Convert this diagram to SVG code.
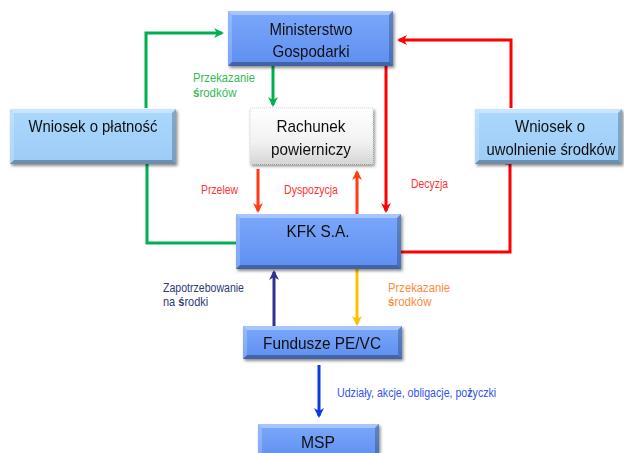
<svg xmlns="http://www.w3.org/2000/svg" width="624" height="453" viewBox="0 0 624 453">
<defs>
<linearGradient id="gBlue" x1="0" y1="0" x2="0" y2="1"><stop offset="0" stop-color="#7BA8FB"/><stop offset="1" stop-color="#5E8FF0"/></linearGradient>
<linearGradient id="gLight" x1="0" y1="0" x2="0" y2="1"><stop offset="0" stop-color="#ACD8FC"/><stop offset="1" stop-color="#9CCBF6"/></linearGradient>
<linearGradient id="gGray" x1="0" y1="0" x2="0" y2="1"><stop offset="0" stop-color="#FFFFFF"/><stop offset="0.6" stop-color="#F2F2F2"/><stop offset="1" stop-color="#D6D6D6"/></linearGradient>
<filter id="sh" x="-10%" y="-10%" width="130%" height="140%"><feDropShadow dx="1.5" dy="2" stdDeviation="1.5" flood-color="#000" flood-opacity="0.45"/></filter>
<marker id="aGreen" markerWidth="10" markerHeight="10" refX="8" refY="5" orient="auto" markerUnits="userSpaceOnUse"><path d="M0,0 L10,5 L0,10 L3,5 z" fill="#00B050"/></marker>
<marker id="aRed" markerWidth="10" markerHeight="10" refX="8" refY="5" orient="auto" markerUnits="userSpaceOnUse"><path d="M0,0 L10,5 L0,10 L3,5 z" fill="#FF0000"/></marker>
<marker id="aOrange" markerWidth="10" markerHeight="10" refX="8" refY="5" orient="auto" markerUnits="userSpaceOnUse"><path d="M0,0 L10,5 L0,10 L3,5 z" fill="#FF3B10"/></marker>
<marker id="aNavy" markerWidth="10" markerHeight="10" refX="8" refY="5" orient="auto" markerUnits="userSpaceOnUse"><path d="M0,0 L10,5 L0,10 L3,5 z" fill="#2E3192"/></marker>
<marker id="aYellow" markerWidth="10" markerHeight="10" refX="8" refY="5" orient="auto" markerUnits="userSpaceOnUse"><path d="M0,0 L10,5 L0,10 L3,5 z" fill="#FFC000"/></marker>
<marker id="aBlue" markerWidth="10" markerHeight="10" refX="8" refY="5" orient="auto" markerUnits="userSpaceOnUse"><path d="M0,0 L10,5 L0,10 L3,5 z" fill="#0A3BE0"/></marker>
</defs>
<style>
.box{filter:url(#sh)}
.blue{fill:url(#gBlue)}
.light{fill:url(#gLight)}
.gray{fill:url(#gGray);stroke:#D8D8D8;stroke-width:1;stroke-dasharray:1 1}
.hiT{fill:#FFFFFF;opacity:0.35}
.hiL{fill:#FFFFFF;opacity:0.2}
.loB{fill:#000000;opacity:0.3}
.loR{fill:#000000;opacity:0.22}
.t{font-family:"Liberation Sans Narrow","Arial Narrow","Liberation Sans",sans-serif;fill:#111;text-anchor:middle;font-size:17px}
.lbl{font-family:"Liberation Sans Narrow","Arial Narrow","Liberation Sans",sans-serif;font-size:12.5px}
.b{font-weight:bold}
.c{fill:none;stroke-width:3}
</style>
<rect width="624" height="453" fill="#FFFFFF"/>
<g id="connectors">
<polyline class="c" stroke="#00B050" points="146,108 146,33 222,33" marker-end="url(#aGreen)"/>
<polyline class="c" stroke="#FF0000" points="511,108 511,40 399,40" marker-end="url(#aRed)"/>
<line class="c" stroke="#00B050" x1="273" y1="66" x2="273" y2="105" marker-end="url(#aGreen)"/>
<line class="c" stroke="#FF0000" x1="386" y1="66" x2="386" y2="211" marker-end="url(#aRed)"/>
<line class="c" stroke="#FF3B10" x1="258" y1="169" x2="258" y2="211" marker-end="url(#aOrange)"/>
<line class="c" stroke="#FF3B10" x1="357" y1="214" x2="357" y2="172" marker-end="url(#aOrange)"/>
<polyline class="c" stroke="#00B050" points="147,164 147,243 237,243"/>
<polyline class="c" stroke="#FF0000" points="505,163 510,163 510,252 400,252"/>
<line class="c" stroke="#2E3192" x1="274" y1="326" x2="274" y2="272" marker-end="url(#aNavy)"/>
<line class="c" stroke="#FFC000" x1="357" y1="269" x2="357" y2="324" marker-end="url(#aYellow)"/>
<line class="c" stroke="#0A3BE0" x1="319" y1="365" x2="319" y2="416" marker-end="url(#aBlue)"/>
<text class="lbl" fill="#33BB55" x="193" y="82" textLength="62" lengthAdjust="spacingAndGlyphs">Przekazanie</text>
<text class="lbl" fill="#33BB55" transform="translate(193,97) scale(0.92,1)"><tspan class="b">ś</tspan>rodków</text>
<text class="lbl" fill="#FF3333" x="201" y="194" textLength="37" lengthAdjust="spacingAndGlyphs">Przelew</text>
<text class="lbl" fill="#FF3333" x="284" y="194" textLength="54" lengthAdjust="spacingAndGlyphs">Dyspozycja</text>
<text class="lbl" fill="#FF3333" x="411" y="188" textLength="37" lengthAdjust="spacingAndGlyphs">Decyzja</text>
<text class="lbl" fill="#2F3A7A" x="163" y="292" textLength="81" lengthAdjust="spacingAndGlyphs">Zapotrzebowanie</text>
<text class="lbl" fill="#2F3A7A" transform="translate(163,306) scale(0.88,1)">na <tspan class="b">ś</tspan>rodki</text>
<text class="lbl" fill="#FF8C3A" x="388" y="292" textLength="62" lengthAdjust="spacingAndGlyphs">Przekazanie</text>
<text class="lbl" fill="#FF8C3A" transform="translate(388,306) scale(0.92,1)"><tspan class="b">ś</tspan>rodków</text>
<text class="lbl" fill="#3355EE" transform="translate(337,397) scale(0.85,1)">Udziały, akcje, obligacje, po<tspan class="b">ż</tspan>yczki</text>
</g>
<g id="ministerstwo" class="box">
<rect class="blue" x="228" y="11" width="165" height="55"/>
<polygon class="hiT" points="228,11 393,11 389,15 232,15"/>
<polygon class="hiL" points="228,11 232,15 232,62 228,66"/>
<polygon class="loB" points="228,66 232,62 389,62 393,66"/>
<polygon class="loR" points="393,11 393,66 389,62 389,15"/>
<text class="t" x="311" y="35" textLength="83" lengthAdjust="spacingAndGlyphs">Ministerstwo</text>
<text class="t" x="311" y="57" textLength="77" lengthAdjust="spacingAndGlyphs">Gospodarki</text>
</g>
<g id="wniosek-platnosc" class="box">
<rect class="light" x="10" y="109" width="166" height="55"/>
<polygon class="hiT" points="10,109 176,109 172,113 14,113"/>
<polygon class="hiL" points="10,109 14,113 14,160 10,164"/>
<polygon class="loB" points="10,164 14,160 172,160 176,164"/>
<polygon class="loR" points="176,109 176,164 172,160 172,113"/>
<text class="t" x="93" y="132" textLength="129" lengthAdjust="spacingAndGlyphs">Wniosek o płatność</text>
</g>
<g id="rachunek" class="box">
<rect class="gray" x="250" y="108" width="123" height="56"/>
<text class="t" x="311" y="132" textLength="69" lengthAdjust="spacingAndGlyphs">Rachunek</text>
<text class="t" x="311" y="155" textLength="80" lengthAdjust="spacingAndGlyphs">powierniczy</text>
</g>
<g id="wniosek-uwolnienie" class="box">
<rect class="light" x="475" y="109" width="147" height="55"/>
<polygon class="hiT" points="475,109 622,109 618,113 479,113"/>
<polygon class="hiL" points="475,109 479,113 479,160 475,164"/>
<polygon class="loB" points="475,164 479,160 618,160 622,164"/>
<polygon class="loR" points="622,109 622,164 618,160 618,113"/>
<text class="t" x="550" y="132" textLength="70" lengthAdjust="spacingAndGlyphs">Wniosek o</text>
<text class="t" transform="translate(551,155) scale(0.87,1)">uwolnienie środków</text>
</g>
<g id="kfk" class="box">
<rect class="blue" x="236" y="214" width="165" height="55"/>
<polygon class="hiT" points="236,214 401,214 397,218 240,218"/>
<polygon class="hiL" points="236,214 240,218 240,265 236,269"/>
<polygon class="loB" points="236,269 240,265 397,265 401,269"/>
<polygon class="loR" points="401,214 401,269 397,265 397,218"/>
<text class="t" x="318" y="237" font-size="18" textLength="63" lengthAdjust="spacingAndGlyphs">KFK S.A.</text>
</g>
<g id="fundusze" class="box">
<rect class="blue" x="243" y="326" width="159" height="33"/>
<polygon class="hiT" points="243,326 402,326 398,330 247,330"/>
<polygon class="hiL" points="243,326 247,330 247,355 243,359"/>
<polygon class="loB" points="243,359 247,355 398,355 402,359"/>
<polygon class="loR" points="402,326 402,359 398,355 398,330"/>
<text class="t" x="322" y="349" textLength="118" lengthAdjust="spacingAndGlyphs">Fundusze PE/VC</text>
</g>
<g id="msp" class="box">
<rect class="blue" x="258" y="424" width="121" height="36"/>
<polygon class="hiT" points="258,424 379,424 375,428 262,428"/>
<polygon class="hiL" points="258,424 262,428 262,460 258,460"/>
<polygon class="loR" points="379,424 379,460 375,460 375,428"/>
<text class="t" x="318" y="448" font-size="18" textLength="34" lengthAdjust="spacingAndGlyphs">MSP</text>
</g>
</svg>
